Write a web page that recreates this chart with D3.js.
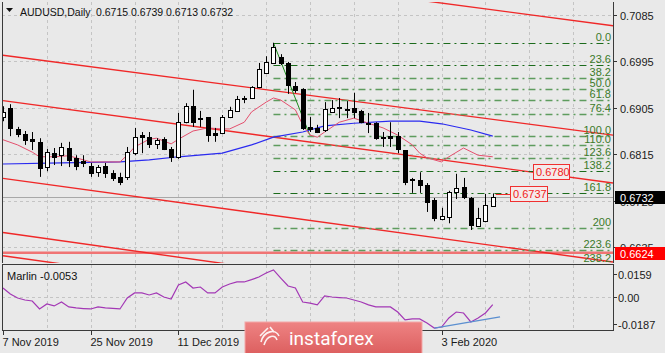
<!DOCTYPE html>
<html>
<head>
<meta charset="utf-8">
<script src="https://cdn.jsdelivr.net/npm/d3@7"></script>
<style>
body{margin:0;background:#e9e9e9;}
svg{display:block;font-family:"Liberation Sans",Arial,sans-serif;}
</style>
</head>
<body>
<div id="container"></div>
<script>
// daily candles, bar 0 = 7 Nov 2019
let opens  = [.6887,.6905,.6864,.6854,.6844,.6839,.6790,.6817,.6813,.6827,.6808,.6802,.6792,.6780,.6792,.6779,.6771,.6771,.6817,.6852,
              .6848,.6835,.6844,.6825,.6809,.6877,.6908,.6885,.6887,.6856,.6856,.6887,.6899,.6922,.6924,.6945,.6972,.6992,.7003,.6992,
              .6947,.6941,.6868,.6866,.6862,.6897,.6905,.6903,.6905,.6899,.6875,.6875,.6848,.6850,.6850,.6823,.6765,.6765,.6755,.6726,
              .6689,.6693,.6742,.6751,.6730,.6676,.6685,.6715];
let highs  = [.6908,.6912,.6868,.6860,.6858,.6846,.6825,.6827,.6837,.6839,.6813,.6813,.6798,.6794,.6798,.6784,.6779,.6829,.6866,.6858,
              .6858,.6846,.6848,.6829,.6895,.6914,.6940,.6899,.6887,.6866,.6891,.6907,.6928,.6928,.6947,.6992,.7005,.7031,.7009,.6994,
              .6955,.6943,.6887,.6872,.6916,.6920,.6924,.6918,.6934,.6901,.6895,.6877,.6858,.6877,.6858,.6823,.6769,.6780,.6759,.6730,
              .6711,.6744,.6777,.6769,.6732,.6711,.6738,.6739];
let lows   = [.6879,.6850,.6848,.6833,.6823,.6771,.6782,.6794,.6792,.6790,.6784,.6790,.6771,.6771,.6769,.6763,.6755,.6765,.6813,.6817,
              .6827,.6825,.6823,.6800,.6806,.6875,.6868,.6868,.6839,.6839,.6854,.6885,.6897,.6914,.6922,.6943,.6971,.6992,.6988,.6932,
              .6934,.6862,.6858,.6856,.6858,.6895,.6885,.6885,.6885,.6875,.6856,.6843,.6829,.6829,.6817,.6755,.6740,.6740,.6703,.6685,
              .6687,.6681,.6728,.6728,.6668,.6674,.6683,.6713];
let closes = [.6897,.6866,.6854,.6843,.6841,.6788,.6819,.6809,.6829,.6804,.6792,.6798,.6779,.6790,.6779,.6769,.6761,.6819,.6848,.6848,
              .6835,.6843,.6825,.6809,.6877,.6908,.6877,.6883,.6852,.6852,.6887,.6901,.6922,.6924,.6945,.6980,.6994,.7023,.6992,.6949,
              .6940,.6866,.6864,.6858,.6903,.6905,.6906,.6902,.6897,.6877,.6874,.6846,.6847,.6846,.6825,.6761,.6767,.6755,.6722,.6691,
              .6695,.6742,.6749,.6732,.6678,.6691,.6716,.6732];

// slow MA (blue) and fast MA (pink), read at bar index
let blueIdx = [0,8,16,20,24,30,34,37,41,44,48,53,57,60,64,67];
let blueVal = [.6796,.6798,.6800,.6804,.6810,.6817,.6833,.6848,.6858,.6870,.6875,.6879,.6879,.6874,.6862,.6850];
let pinkIdx = [0,2,4,5,7,9,11,12,16,17,18,20,21,23,24,26,28,30,31,33,34,36,37,38,40,41,42,43,44,46,48,50,52,54,56,57,58,60,61,63,65,67];
let pinkVal = [.6843,.6833,.6819,.6810,.6810,.6812,.6804,.6800,.6800,.6813,.6829,.6844,.6846,.6835,.6844,.6860,.6866,.6864,.6864,.6877,
               .6897,.6916,.6924,.6920,.6901,.6872,.6852,.6848,.6858,.6877,.6885,.6875,.6866,.6852,.6833,.6817,.6808,.6800,.6810,.6827,
               .6813,.6810];

// Marlin oscillator
let marlin = [.0062,.0021,-.0007,-.0021,-.0028,-.0083,-.0048,-.0062,-.0035,-.0069,-.0076,-.0080,-.0083,-.0069,-.0076,-.0079,-.0083,-.0007,.0028,.0028,
              .0014,.0028,.0000,-.0014,.0083,.0104,.0062,.0069,.0028,.0028,.0069,.0090,.0104,.0104,.0120,.0138,.0166,.0187,.0131,.0076,
              .0062,-.0035,-.0042,-.0055,.0007,.0000,-.0004,-.0007,-.0021,-.0035,-.0055,-.0069,-.0069,-.0069,-.0104,-.0159,-.0152,-.0152,-.0180,-.0215,
              -.0208,-.0145,-.0104,-.0111,-.0173,-.0145,-.0111,-.0053];
let marlinTrendIdx = [59, 68];
let marlinTrendVal = [-.0215, -.0138];

// channel lines: price at left edge and at right edge of the plot
let chanStart = [.7221,.7007,.6919,.6768,.6663,.6618];
let chanEnd   = [.7064,.6852,.6759,.6606,.6497,.6453];

// fibo from the high to the low
let fibHighIdx = 37, fibHigh = .7031;
let fibLowIdx = 42, fibLow = .6851;
let fibLevels = [0,23.6,38.2,50,61.8,76.4,100,110,123.6,138.2,161.8,200,223.6,238.2];
let fibLabels = ["0.0","23.6","38.2","50.0","61.8","76.4","100.0","110.0","123.6","138.2","161.8","200","223.6","238.2"];
let fibDark = [true,true,false,false,false,false,false,false,false,true,true,false,false,false];

let priceTicks = [0.7085,0.6995,0.6905,0.6815,0.6725,0.6635];
let marlinTicks = [0.0159,0,-0.0187];
let marlinTickLabels = ["0.0159","0.00","-0.0187"];
let dateIdx = [0,12,24,60];
let dateLabels = ["7 Nov 2019","25 Nov 2019","11 Dec 2019","3 Feb 2020"];

let supportLevel = 0.6624;
let bidPrice = 0.6732;
let markA = 0.6780, markB = 0.6737;

let w = 665, h = 353;
let viz = d3.select("#container").append("svg")
  .attr("width", w).attr("height", h)
  .style("background-color", "#e9e9e9");

let plotL = 2, plotR = 613, mainT = 2, mainB = 263, indT = 265, indB = 331;

let xScale = d3.scaleLinear().domain([0, 83.45]).range([3, 613]);
let yScale = d3.scaleLinear().domain([0.6635, 0.7085]).range([247, 15]);
let mScale = d3.scaleLinear().domain([-0.0187, 0.0159]).range([324, 274]);

let defs = viz.append("defs");
defs.append("clipPath").attr("id", "mainClip").append("rect")
  .attr("x", plotL).attr("y", mainT).attr("width", plotR - plotL).attr("height", mainB - mainT);
defs.append("clipPath").attr("id", "indClip").append("rect")
  .attr("x", plotL).attr("y", indT).attr("width", plotR - plotL).attr("height", indB - indT);

// grid
let gridG = viz.append("g").attr("stroke", "#c4c4c4").attr("stroke-dasharray", "3,3");
d3.range(6, 84, 6).forEach(function(i){
  let x = Math.round(xScale(i)) + 0.5;
  gridG.append("line").attr("x1", x).attr("x2", x).attr("y1", mainT).attr("y2", mainB);
  gridG.append("line").attr("x1", x).attr("x2", x).attr("y1", indT).attr("y2", indB);
});
priceTicks.forEach(function(p){
  let y = Math.round(yScale(p)) + 0.5;
  gridG.append("line").attr("x1", plotL).attr("x2", plotR).attr("y1", y).attr("y2", y);
});
gridG.append("line").attr("x1", plotL).attr("x2", plotR)
  .attr("y1", Math.round(mScale(0)) + 0.5).attr("y2", Math.round(mScale(0)) + 0.5);

let mainG = viz.append("g").attr("clip-path", "url(#mainClip)");

// bid line
mainG.append("line").attr("x1", plotL).attr("x2", plotR)
  .attr("y1", Math.round(yScale(bidPrice)) + 0.5).attr("y2", Math.round(yScale(bidPrice)) + 0.5)
  .attr("stroke", "#a8a8a8");

// support line
mainG.append("line").attr("x1", plotL).attr("x2", plotR)
  .attr("y1", yScale(supportLevel)).attr("y2", yScale(supportLevel))
  .attr("stroke", "#f07474").attr("stroke-width", 2.5);

// channel
chanStart.forEach(function(p0, k){
  mainG.append("line")
    .attr("x1", xScale(0)).attr("y1", yScale(p0))
    .attr("x2", xScale(83.45)).attr("y2", yScale(chanEnd[k]))
    .attr("stroke", "#f02828").attr("stroke-width", 1.4);
});

// fibo
let fibG = mainG.append("g");
fibLevels.forEach(function(lv, k){
  let p = fibHigh - (fibHigh - fibLow) * lv / 100;
  let y = Math.round(yScale(p)) + 0.5;
  fibG.append("line").attr("x1", xScale(fibHighIdx)).attr("x2", plotR - 1)
    .attr("y1", y).attr("y2", y)
    .attr("stroke", fibDark[k] ? "#1b6b1b" : "#5e9c5e")
    .attr("stroke-width", fibDark[k] ? 1 : 1.6)
    .attr("stroke-dasharray", "7,4,2,4");
  fibG.append("text").attr("x", 611).attr("y", y - 2.5)
    .attr("text-anchor", "end").attr("font-size", 11).attr("fill", "#3b7a2a")
    .text(fibLabels[k]);
});
fibG.append("line")
  .attr("x1", xScale(fibHighIdx)).attr("y1", yScale(fibHigh))
  .attr("x2", xScale(fibLowIdx)).attr("y2", yScale(fibLow))
  .attr("stroke", "#1b8b1b").attr("stroke-width", 1);

// moving averages
let maLine = d3.line().x(function(d){ return xScale(d[0]); }).y(function(d){ return yScale(d[1]); });
mainG.append("path").attr("d", maLine(d3.zip(blueIdx, blueVal)))
  .attr("fill", "none").attr("stroke", "#2a2af0").attr("stroke-width", 1.2);
mainG.append("path").attr("d", maLine(d3.zip(pinkIdx, pinkVal)))
  .attr("fill", "none").attr("stroke", "#e4506e").attr("stroke-width", 1);

// candles
let bars = opens.map(function(o, i){
  return {i: i, o: o, h: highs[i], l: lows[i], c: closes[i]};
});
let candleG = mainG.selectAll(".candle").data(bars).enter().append("g").attr("class", "candle");
candleG.append("line")
  .attr("x1", function(d){ return Math.round(xScale(d.i)) + 0.5; })
  .attr("x2", function(d){ return Math.round(xScale(d.i)) + 0.5; })
  .attr("y1", function(d){ return yScale(d.h); })
  .attr("y2", function(d){ return yScale(d.l); })
  .attr("stroke", "#000");
candleG.append("rect")
  .attr("x", function(d){ return Math.round(xScale(d.i)) - 1.5; })
  .attr("width", 4)
  .attr("y", function(d){ return Math.round(Math.min(yScale(d.o), yScale(d.c))) + 0.5; })
  .attr("height", function(d){ return Math.max(1, Math.round(Math.abs(yScale(d.o) - yScale(d.c)))); })
  .attr("fill", function(d){ return d.c >= d.o ? "#fff" : "#000"; })
  .attr("stroke", "#000");

// price marks
let yB = Math.round(yScale(markB)) + 0.5;
mainG.append("line").attr("x1", xScale(67) + 3).attr("x2", 510).attr("y1", yB).attr("y2", yB)
  .attr("stroke", "#f02828");
[[markA, 533, 36], [markB, 510, 37]].forEach(function(m){
  let y = yScale(m[0]);
  mainG.append("rect").attr("x", m[1] + 0.5).attr("y", Math.round(y) - 7.5)
    .attr("width", m[2]).attr("height", 15)
    .attr("fill", "#f4eaea").attr("stroke", "#f03030");
  mainG.append("text").attr("x", m[1] + 3).attr("y", Math.round(y) + 4)
    .attr("font-size", 11).attr("fill", "#f02020").text(m[0].toFixed(4));
});

// title
viz.append("path").attr("d", "M6,8 L13,8 L9.5,12 Z").attr("fill", "#111");
viz.append("text").attr("x", 20).attr("y", 16).attr("font-size", 10.5).attr("fill", "#111").text("AUDUSD,Daily");
viz.append("text").attr("x", 96).attr("y", 16).attr("font-size", 10.5).attr("fill", "#111")
  .text([opens[67], highs[67], lows[67], closes[67]].map(function(v){ return v.toFixed(4); }).join(" "));

// indicator
let indG = viz.append("g").attr("clip-path", "url(#indClip)");
let mLine = d3.line().x(function(d, i){ return xScale(i); }).y(function(d){ return mScale(d); });
indG.append("path").attr("d", mLine(marlin))
  .attr("fill", "none").attr("stroke", "#a338b5").attr("stroke-width", 1.2);
indG.append("line")
  .attr("x1", xScale(marlinTrendIdx[0])).attr("y1", mScale(marlinTrendVal[0]))
  .attr("x2", xScale(marlinTrendIdx[1])).attr("y2", mScale(marlinTrendVal[1]))
  .attr("stroke", "#5b8fd0").attr("stroke-width", 1.2);
viz.append("text").attr("x", 7).attr("y", 280).attr("font-size", 11).attr("fill", "#111")
  .text("Marlin " + marlin[67].toFixed(4));

// frames
let frame = viz.append("g").attr("stroke", "#3a3a3a").attr("fill", "none");
frame.append("line").attr("x1", 2.5).attr("x2", 2.5).attr("y1", mainT).attr("y2", mainB);
frame.append("line").attr("x1", 613.5).attr("x2", 613.5).attr("y1", mainT).attr("y2", mainB);
frame.append("rect").attr("x", 2.5).attr("y", 264.5).attr("width", 611).attr("height", 66);

// right axis
let axG = viz.append("g").attr("font-size", 11).attr("fill", "#1a1a1a");
priceTicks.forEach(function(p){
  let y = Math.round(yScale(p)) + 0.5;
  axG.append("line").attr("x1", 614).attr("x2", 617).attr("y1", y).attr("y2", y).attr("stroke", "#333");
  axG.append("text").attr("x", 620).attr("y", y + 4).text(p.toFixed(4));
});
marlinTicks.forEach(function(v, k){
  let y = Math.round(mScale(v)) + 0.5;
  axG.append("line").attr("x1", 614).attr("x2", 617).attr("y1", y).attr("y2", y).attr("stroke", "#333");
  axG.append("text").attr("x", 618).attr("y", y + 4).text(marlinTickLabels[k]);
});
[[bidPrice, "#000"], [supportLevel, "#ff0000"]].forEach(function(b){
  let y = Math.round(yScale(b[0]));
  axG.append("rect").attr("x", 615).attr("y", y - 6).attr("width", 50).attr("height", 13).attr("fill", b[1]);
  axG.append("text").attr("x", 620).attr("y", y + 4.5).attr("fill", "#fff").text(b[0].toFixed(4));
});

// dates
dateIdx.forEach(function(i, k){
  let x = Math.round(xScale(i)) + 0.5;
  viz.append("line").attr("x1", x).attr("x2", x).attr("y1", 331).attr("y2", 335).attr("stroke", "#333");
  viz.append("text").attr("x", x - 1).attr("y", 346).attr("font-size", 11).attr("fill", "#1a1a1a").text(dateLabels[k]);
});

// logo
let grad = defs.append("linearGradient").attr("id", "logoGrad").attr("x1", 0).attr("y1", 0).attr("x2", 0).attr("y2", 1);
grad.append("stop").attr("offset", "0%").attr("stop-color", "#ee8383");
grad.append("stop").attr("offset", "100%").attr("stop-color", "#dc5e5e");
let logo = viz.append("g");
logo.append("rect").attr("x", 245).attr("y", 322).attr("width", 177).attr("height", 33)
  .attr("fill", "url(#logoGrad)").attr("stroke", "#f4a8a8");
let icon = logo.append("g").attr("transform", "translate(270,338)")
  .attr("stroke", "#fff").attr("fill", "none").attr("stroke-width", 1.6).attr("opacity", 0.9);
icon.append("path").attr("d", "M-9,4 C-6,-8 6,-9 9,-2");
icon.append("path").attr("d", "M-6,7 C-3,-3 5,-4 7,2");
icon.append("path").attr("d", "M-10,-2 L-2,-10 M0,-11 L4,-6");
logo.append("text").attr("x", 289).attr("y", 345).attr("font-family", "Roboto, sans-serif")
  .attr("font-size", 19).attr("fill", "#fff").text("instaforex");
</script>
</body>
</html>
